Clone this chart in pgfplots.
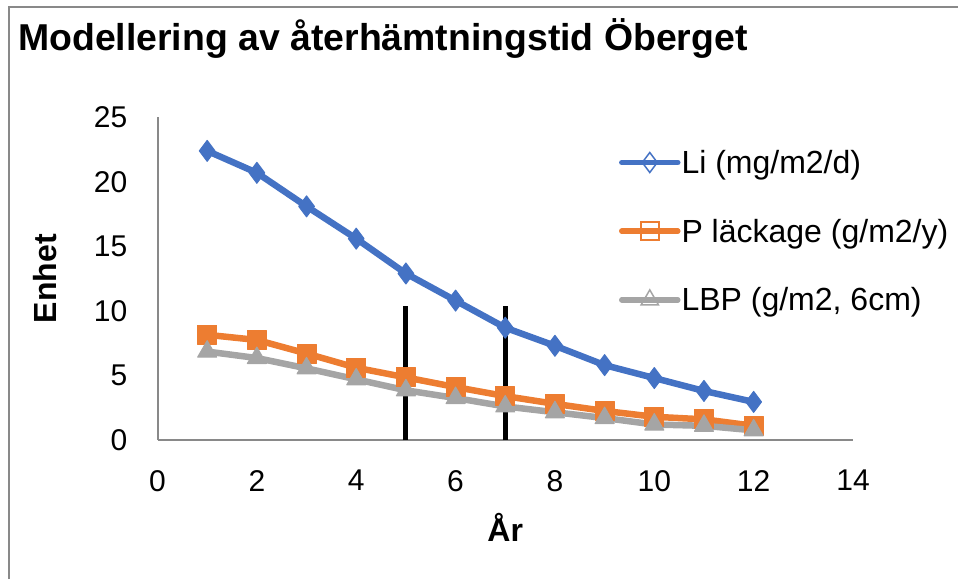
\documentclass[border=0pt]{standalone}
\usepackage{pgfplots}
\pgfplotsset{compat=1.18}
\usepackage{fontspec}
\setmainfont{Liberation Sans}
\definecolor{liblue}{HTML}{4472C4}
\definecolor{porange}{HTML}{ED7D31}
\definecolor{lgray}{HTML}{A5A5A5}
\definecolor{axgray}{HTML}{898989}
\begin{document}
\begin{tikzpicture}[x=1pt,y=1pt]
\useasboundingbox (0,0) rectangle (958,579);
\draw[axgray, line width=2pt] (9,0) -- (9,572) -- (958,572);
\node[anchor=base west, font=\fontsize{37.4}{44}\selectfont\bfseries, inner sep=0pt] at (18,528) {Modellering av återhämtningstid Öberget};
\begin{axis}[
  at={(157.5pt,139pt)}, anchor=south west,
  scale only axis, width=695.5pt, height=322.7pt,
  xmin=0, xmax=14, ymin=0, ymax=25,
  xtick={0,2,...,14}, ytick={0,5,...,25},
  axis x line*=bottom, axis y line*=left,
  axis line style={-, axgray, line width=2pt},
  major tick length=0pt,
  tick label style={inner sep=0pt, font=\fontsize{30}{36}\selectfont},
  /pgf/number format/assume math mode=true,
  xticklabel shift=30pt, yticklabel shift=30pt,
  clip=false,
  xlabel={År}, ylabel={Enhet},
  every axis x label/.style={at={(axis description cs:0.5,-0.313)}, anchor=base, font=\fontsize{32}{38}\selectfont\bfseries},
  every axis y label/.style={at={(axis description cs:-0.162,0.5)}, rotate=90, anchor=center, font=\fontsize{32}{38}\selectfont\bfseries},
  legend style={draw=none, fill=none, at={(axis description cs:0.659,0.905)}, anchor=north west,
    row sep=44pt, column sep=1pt, nodes={inner sep=0pt}, font=\fontsize{32}{38}\selectfont},
  legend cell align=left,
  legend image code/.code={\draw[mark repeat=2, mark phase=2, #1] plot coordinates {(0pt,0pt)(28pt,0pt)(56pt,0pt)};},
]
\addplot[liblue, line width=6.5pt, line join=round, line cap=round, mark=diamond*, mark size=10.5pt, mark options={fill=liblue, line width=1pt}, forget plot] coordinates {
(1,22.4)(2,20.7)(3,18.1)(4,15.6)(5,12.9)(6,10.8)(7,8.7)(8,7.3)(9,5.8)(10,4.8)(11,3.8)(12,2.95)};
\addplot[porange, line width=6.5pt, line join=round, line cap=round, mark=square*, mark size=9.5pt, mark options={fill=porange, line width=1pt}, forget plot] coordinates {
(1,8.15)(2,7.75)(3,6.7)(4,5.6)(5,4.85)(6,4.1)(7,3.4)(8,2.8)(9,2.25)(10,1.8)(11,1.6)(12,1.1)};
\addplot[lgray, line width=6.5pt, line join=round, line cap=round, mark=triangle*, mark size=11pt, mark options={fill=lgray, line width=1pt}, forget plot] coordinates {
(1,6.85)(2,6.35)(3,5.55)(4,4.7)(5,3.85)(6,3.25)(7,2.6)(8,2.15)(9,1.7)(10,1.2)(11,1.1)(12,0.75)};
\addplot[black, line width=5pt, forget plot] coordinates {(5,0)(5,10.4)};
\addplot[black, line width=5pt, forget plot] coordinates {(7,0)(7,10.4)};
\addlegendimage{liblue, line width=5.5pt, line cap=round, mark=diamond, mark size=10pt, mark options={fill=white, line width=1.5pt}}
\addlegendentry{Li (mg/m2/d)}
\addlegendimage{porange, line width=5.5pt, line cap=round, mark=square, mark size=9pt, mark options={fill=white, line width=1.5pt}}
\addlegendentry{P läckage (g/m2/y)}
\addlegendimage{lgray, line width=5.5pt, line cap=round, mark=triangle, mark size=10pt, mark options={fill=white, line width=1.5pt}}
\addlegendentry{LBP (g/m2, 6cm)}
\end{axis}
\end{tikzpicture}
\end{document}
